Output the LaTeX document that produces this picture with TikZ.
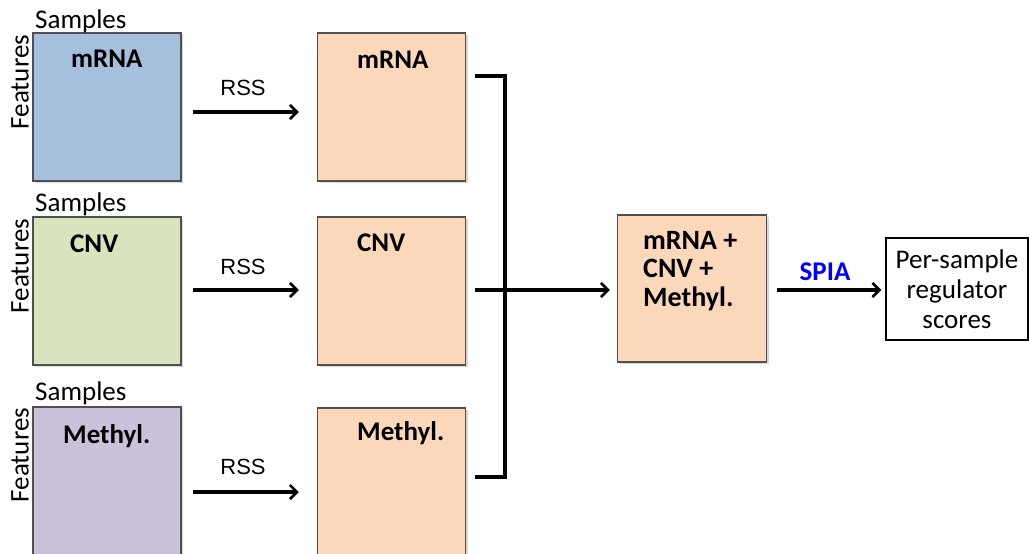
\documentclass[tikz,border=0pt]{standalone}
\usepackage{fontspec}
\setmainfont{Carlito}
\newfontfamily\rssfont{Liberation Sans}
\usetikzlibrary{arrows.meta,shadows}
\definecolor{InBlue}{HTML}{A6BFDD}
\definecolor{InGreen}{HTML}{D7E4BD}
\definecolor{InPurple}{HTML}{CCC1DA}
\definecolor{Peach}{HTML}{FCD8BA}
\definecolor{Edge}{HTML}{505050}

\begin{document}
\begin{tikzpicture}[x=1pt,y=-1pt,
    databox/.style={draw=Edge,line width=1.5pt,minimum width=148pt,minimum height=148pt,inner sep=0pt,
      drop shadow={shadow xshift=2pt,shadow yshift=-2pt,opacity=.3}},
    tag/.style={anchor=west,inner sep=0pt,font=\fontsize{27}{30}\bfseries},
    plain/.style={anchor=west,inner sep=0pt,font=\fontsize{27}{30}\selectfont},
    feat/.style={rotate=90,inner sep=0pt,font=\fontsize{27}{30}\selectfont},
    rss/.style={inner sep=0pt,font=\rssfont\fontsize{22}{26}\selectfont},
    link/.style={line width=3.2pt},
    arr/.style={line width=3.2pt,-{Straight Barb[length=7pt,width=14pt,line width=2.6pt]}}]
    \useasboundingbox[fill=white] (0,0) rectangle (1029,554);
    \node[databox,fill=InBlue] (mrnaIn) at (107,107) {};
    \node[databox,fill=InGreen] (cnvIn) at (107,291) {};
    \node[databox,fill=InPurple] (methIn) at (107,481) {};
    \node[databox,fill=Peach] (mrnaOut) at (391.5,107) {};
    \node[databox,fill=Peach] (cnvOut) at (391.5,291) {};
    \node[databox,fill=Peach] (methOut) at (391.5,482) {};
    \node[databox,fill=Peach,minimum width=149pt,minimum height=147pt] (comb) at (692,288.5) {};
    \node[draw,line width=1.4pt,minimum width=142pt,minimum height=102pt,inner sep=0pt,align=center,
      font=\fontsize{27}{30}\selectfont] (score) at (957,289) {Per-sample\\regulator\\scores};
    \node[plain] (smpA) at (35,21) {Samples};
    \node[plain] (smpB) at (35,204) {Samples};
    \node[plain] (smpC) at (35,393) {Samples};
    \node[feat] (featA) at (20,82) {Features};
    \node[feat] (featB) at (20,266) {Features};
    \node[feat] (featC) at (20,455) {Features};
    \node[tag] (mrnaA) at (71,59) {mRNA};
    \node[tag] (cnvA) at (70,244) {CNV};
    \node[tag] (methA) at (63,436) {Methyl.};
    \node[tag] (mrnaB) at (357,60) {mRNA};
    \node[tag] (cnvB) at (357,243) {CNV};
    \node[tag] (methB) at (357,433) {Methyl.};
    \node[anchor=north west,inner sep=0pt,align=left,font=\fontsize{28}{28.5}\bfseries] (combTxt) at (643,231)
      {mRNA +\\CNV +\\Methyl.};
    \node[rss] (rssA) at (243,88) {RSS};
    \node[rss] (rssB) at (243,267) {RSS};
    \node[rss] (rssC) at (243,467) {RSS};
    \node[inner sep=0pt,text=blue,font=\fontsize{27}{30}\bfseries] (spia) at (825,272) {SPIA};
    \draw[arr,shorten <=11pt,shorten >=18pt] (mrnaIn.east |- 0,112) -- (mrnaOut.west |- 0,112);
    \draw[arr,shorten <=11pt,shorten >=18pt] (cnvIn.east |- 0,290) -- (cnvOut.west |- 0,290);
    \draw[arr,shorten <=11pt,shorten >=18pt] (methIn.east |- 0,492) -- (methOut.west |- 0,492);
    \coordinate (topEnd) at (475,76);
    \coordinate (midEnd) at (475,290);
    \coordinate (botEnd) at (475,477);
    \coordinate (jn) at (505,290);
    \draw[link] (topEnd) -| (jn) |- (botEnd);
    \draw[arr,shorten >=7pt] (midEnd) -- (comb.west |- midEnd);
    \draw[arr,shorten <=10pt,shorten >=4pt] (comb.east |- 0,290) -- (score.west |- 0,290);
  \end{tikzpicture}
\end{document}
